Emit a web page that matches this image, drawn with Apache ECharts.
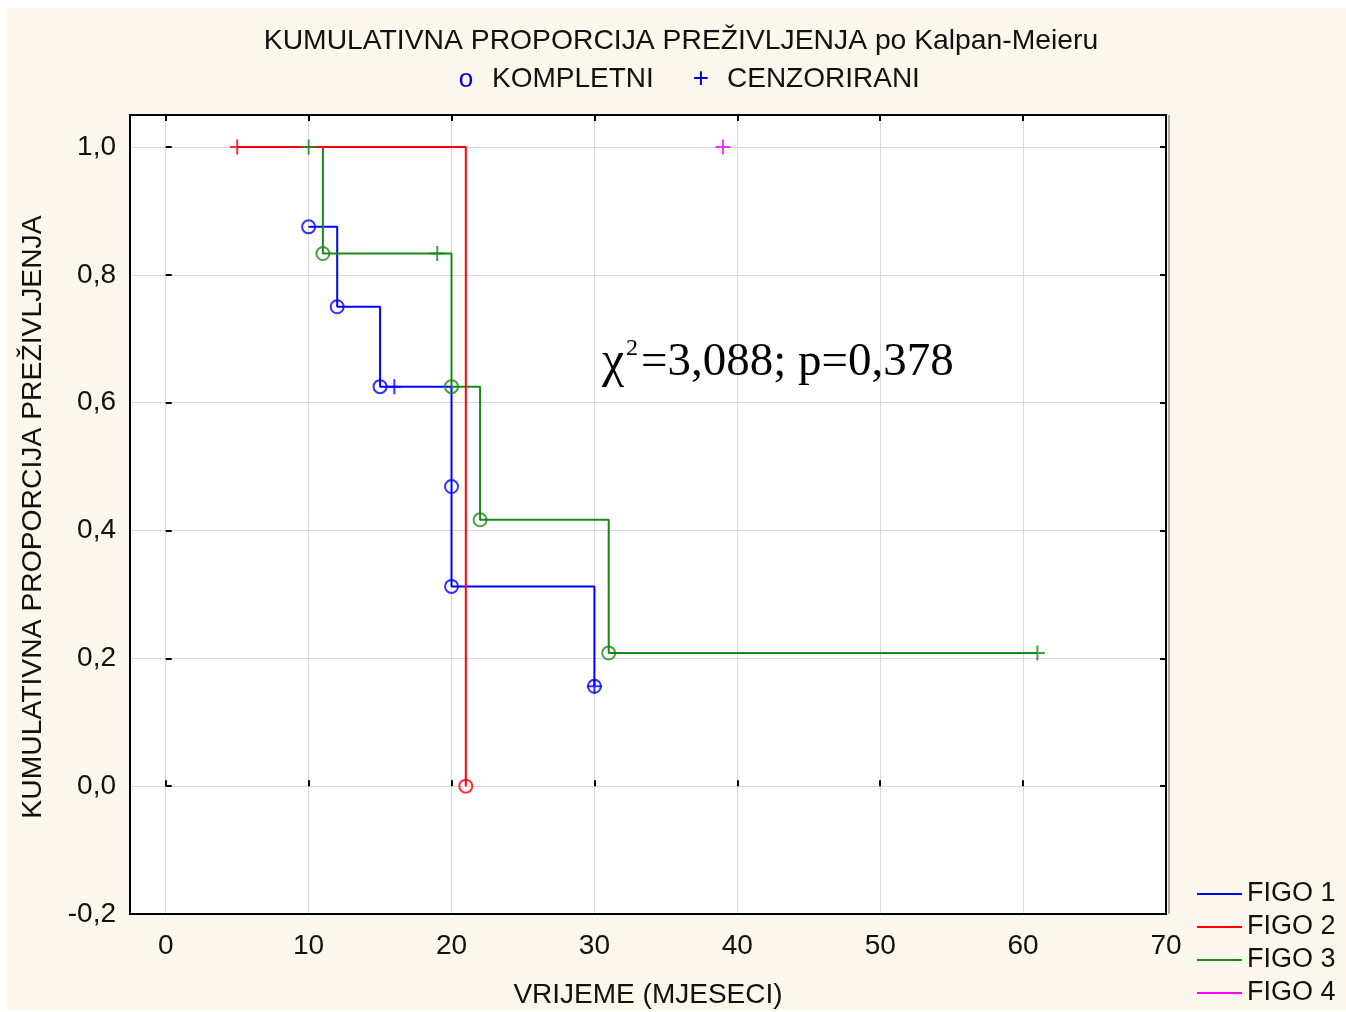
<!DOCTYPE html>
<html><head><meta charset="utf-8">
<script src="https://cdn.jsdelivr.net/npm/echarts@6/dist/echarts.min.js"></script>
<style>html,body{margin:0;padding:0;background:#fff}#c{width:1346px;height:1012px}</style>
</head><body><div id="c"></div>
<script>
// ---- data ----
const seriesNames = ['FIGO 1', 'FIGO 2', 'FIGO 3', 'FIGO 4'];
const seriesColors = ['#0000ff', '#ff0000', '#168a16', '#ff00ff'];
const xTicks = [0, 10, 20, 30, 40, 50, 60, 70];
const yTicks = [-0.2, 0, 0.2, 0.4, 0.6, 0.8, 1.0];

// step curves (survival estimate at each observation)
const figo1Curve = [[10, 0.875], [12, 0.75], [15, 0.625], [16, 0.625], [20, 0.46875], [20, 0.3125], [30, 0.15625]];
const figo2Curve = [[5, 1.0], [21, 0.0]];
const figo3Curve = [[10, 1.0], [11, 0.8333], [19, 0.8333], [20, 0.625], [22, 0.4167], [31, 0.2083], [61, 0.2083]];
const figo4Curve = [[39, 1.0]];

// complete (event) observations
const figo1Events = [[10, 0.875], [12, 0.75], [15, 0.625], [20, 0.46875], [20, 0.3125], [30, 0.15625]];
const figo2Events = [[21, 0.0]];
const figo3Events = [[11, 0.8333], [20, 0.625], [22, 0.4167], [31, 0.2083]];
const figo4Events = [];

// censored observations
const figo1Censored = [[16, 0.625], [30, 0.15625]];
const figo2Censored = [[5, 1.0]];
const figo3Censored = [[10, 1.0], [19, 0.8333], [61, 0.2083]];
const figo4Censored = [[39, 1.0]];

const curves = [figo1Curve, figo2Curve, figo3Curve, figo4Curve];
const events = [figo1Events, figo2Events, figo3Events, figo4Events];
const censored = [figo1Censored, figo2Censored, figo3Censored, figo4Censored];

const titleText = 'KUMULATIVNA PROPORCIJA PREŽIVLJENJA po Kalpan-Meieru';
const markerLegend = ['KOMPLETNI', 'CENZORIRANI'];
const xName = 'VRIJEME (MJESECI)';
const yName = 'KUMULATIVNA PROPORCIJA PREŽIVLJENJA';
const statText = '=3,088; p=0,378';

// ---- chart ----
const FONT = '"Liberation Sans", Arial, sans-serif';
const SERIF = '"Liberation Serif", "Times New Roman", serif';
const lineZ = [3, 5, 4, 3];
const series = [];
seriesNames.forEach((n, i) => {
  series.push({
    name: n, type: 'line', step: 'end', data: curves[i],
    xAxisIndex: 0, yAxisIndex: 0, symbol: 'none', showSymbol: false,
    lineStyle: { color: seriesColors[i], width: 2 }, itemStyle: { color: seriesColors[i] },
    z: lineZ[i], silent: true, animation: false
  });
});
seriesNames.forEach((n, i) => {
  series.push({
    name: n + ' kompletni', type: 'scatter', data: events[i], xAxisIndex: 0, yAxisIndex: 0,
    symbol: 'circle', symbolSize: 13,
    itemStyle: { color: 'rgba(0,0,0,0)', borderColor: seriesColors[i], borderWidth: 2 },
    z: 6, silent: true, animation: false
  });
  series.push({
    name: n + ' cenzorirani', type: 'scatter', data: censored[i], xAxisIndex: 0, yAxisIndex: 0,
    symbol: 'path://M10,0L10,20M0,10L20,10', symbolSize: 15,
    itemStyle: { color: seriesColors[i], borderColor: seriesColors[i], borderWidth: 2 },
    z: 6, silent: true, animation: false
  });
});

const yFmt = v => {
  const t = yTicks.find(a => Math.abs(a - v) < 1e-6);
  return t === undefined ? '' : t.toFixed(1).replace('.', ',');
};
const xFmt = v => xTicks.indexOf(Math.round(v)) >= 0 && Math.abs(v - Math.round(v)) < 1e-6 ? String(Math.round(v)) : '';

const W = 1346, H = 1012;
const GL = 130, GR = 180, GT = 115, GB = 98;
const x0px = 165.7;
const tick = { show: true, inside: true, length: 6, lineStyle: { color: '#000', width: 2 } };
const split = { show: true, lineStyle: { color: '#d8d8d8', width: 1 } };

const option = {
  backgroundColor: '#ffffff',
  animation: false,
  textStyle: { fontFamily: FONT },
  grid: [
    { left: GL, right: GR, top: GT, bottom: GB, show: true, backgroundColor: '#ffffff', borderWidth: 0, z: 0 },
    { left: x0px, right: GR, top: GT, bottom: GB, show: false, z: 0 }
  ],
  xAxis: [
    { gridIndex: 0, type: 'value', min: -2.5, max: 70, show: false },
    { gridIndex: 1, type: 'value', min: 0, max: 70, interval: 10, position: 'bottom', z: 2,
      axisLine: { show: false }, axisTick: tick,
      axisLabel: { formatter: xFmt, fontSize: 28, color: '#111', margin: 18, fontFamily: FONT },
      splitLine: split },
    { gridIndex: 1, type: 'value', min: 0, max: 70, interval: 10, position: 'top', z: 2,
      axisLine: { show: false }, axisTick: tick, axisLabel: { show: false }, splitLine: { show: false } }
  ],
  yAxis: [
    { gridIndex: 0, type: 'value', min: -0.2, max: 1.05, interval: 0.2, position: 'left', z: 2,
      axisLine: { show: false }, axisTick: tick,
      axisLabel: { formatter: yFmt, fontSize: 28, color: '#111', margin: 14, fontFamily: FONT },
      splitLine: split },
    { gridIndex: 0, type: 'value', min: -0.2, max: 1.05, interval: 0.2, position: 'right', z: 2,
      axisLine: { show: false }, axisTick: tick, axisLabel: { show: false }, splitLine: { show: false } },
    { gridIndex: 1, type: 'value', min: -0.2, max: 1.05, show: false }
  ],
  legend: {
    data: seriesNames, orient: 'vertical', left: 1192, top: 875,
    icon: 'rect', itemWidth: 45, itemHeight: 2, itemGap: 5, itemTextGap: 11,
    textStyle: { fontSize: 27, color: '#111', lineHeight: 28, fontFamily: FONT },
    selectedMode: false
  },
  graphic: [
    { type: 'rect', silent: true, z: -100, shape: { x: 6, y: 8, width: 1340, height: 1002 }, style: { fill: '#fcf7ed' } },
    { type: 'rect', silent: true, z: 50, shape: { x: GL, y: GT, width: W - GL - GR, height: H - GT - GB }, style: { fill: 'none', stroke: '#000', lineWidth: 2 } },
    { type: 'line', silent: true, z: 50, shape: { x1: W - GR + 3, y1: GT, x2: W - GR + 3, y2: H - GB }, style: { stroke: '#aaa', lineWidth: 2 } },
    { type: 'text', silent: true, x: 681, y: 41, style: { text: titleText, font: '28.3px ' + FONT, fill: '#111', textAlign: 'center', textVerticalAlign: 'middle' } },
    { type: 'text', silent: true, x: 466, y: 80, style: { text: 'o', font: '26px ' + FONT, fill: '#0000cc', textAlign: 'center', textVerticalAlign: 'middle' } },
    { type: 'text', silent: true, x: 492, y: 79, style: { text: markerLegend[0], font: '28px ' + FONT, fill: '#111', textAlign: 'left', textVerticalAlign: 'middle' } },
    { type: 'text', silent: true, x: 701, y: 79, style: { text: '+', font: '28px ' + FONT, fill: '#0000cc', textAlign: 'center', textVerticalAlign: 'middle' } },
    { type: 'text', silent: true, x: 727, y: 79, style: { text: markerLegend[1], font: '28px ' + FONT, fill: '#111', textAlign: 'left', textVerticalAlign: 'middle' } },
    { type: 'text', silent: true, x: 648, y: 995, style: { text: xName, font: '28px ' + FONT, fill: '#111', textAlign: 'center', textVerticalAlign: 'middle' } },
    { type: 'text', silent: true, x: 33, y: 517, rotation: Math.PI / 2, style: { text: yName, font: '28.3px ' + FONT, fill: '#111', textAlign: 'center', textVerticalAlign: 'middle' } },
    { type: 'text', silent: true, z: 10, x: 602, y: 363, style: { text: 'χ', font: '50px ' + SERIF, fill: '#000', textAlign: 'left', textVerticalAlign: 'middle' } },
    { type: 'text', silent: true, z: 10, x: 632, y: 349, style: { text: '2', font: '24px ' + SERIF, fill: '#000', textAlign: 'center', textVerticalAlign: 'middle' } },
    { type: 'text', silent: true, z: 10, x: 641, y: 363, style: { text: statText, font: '47px ' + SERIF, fill: '#000', textAlign: 'left', textVerticalAlign: 'middle' } }
  ],
  series: series
};
const chart = echarts.init(document.getElementById('c'));
chart.setOption(option);
</script></body></html>
